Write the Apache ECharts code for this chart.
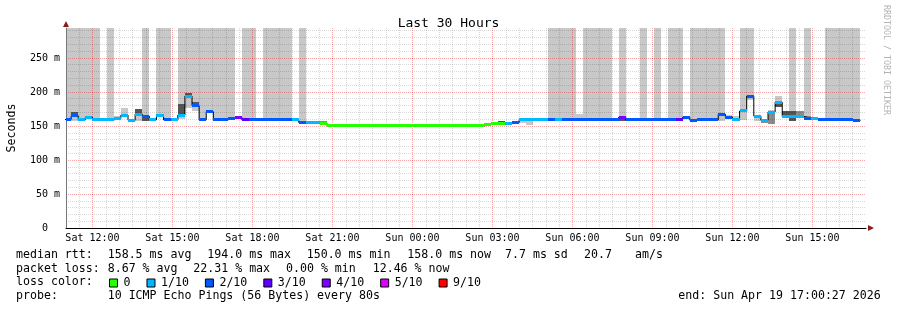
<!DOCTYPE html>
<html><head><meta charset="utf-8">
<script src="https://cdn.jsdelivr.net/npm/echarts@6/dist/echarts.min.js"></script>
<style>html,body{margin:0;padding:0;background:#fff}#c{width:897px;height:310px}</style>
</head><body><div id="c"></div>
<script>
// ---- data (hours since Sat 00:00; bins of 16 minutes starting Sat 10:56) ----
const binStartMinute = 656;
const binMinutes = 16;
const medianValues = [
 159.5,165,159,163,159,159,159,161,166,158.5,
 167.5,164.5,159,165,159,159,166,194,180,159,
 171,159,159,161,163,159,159,159,160,159,
 159,159,159,155,154.5,155,153.5,150,150,150,
 150,150,150,150,150,150,150,150,150,150,
 150,150,150,150,150,150,150,150,150,152,
 153.5,153,154,155,159,159,159,159,159,159,
 159,159,159,159,159,159,159,159,163,159,
 159,159,159,159,159,159,159,163,158.5,159,
 159,159,167.5,163,159,172,194,164.5,158.5,170.5,
 185,164,164,164,161.5,161,159,159,159,159,
 159,158];
const lossLevels = [
 2,2,1,1,1,1,1,1,1,1,
 1,2,1,1,2,1,1,1,2,2,
 2,2,2,2,4,3,2,2,2,2,
 2,2,1,2,1,1,0,0,0,0,
 0,0,0,0,0,0,0,0,0,0,
 0,0,0,0,0,0,0,0,0,0,
 0,0,1,2,1,1,1,1,2,1,
 2,2,2,2,2,2,2,2,4,2,
 2,2,2,2,2,2,3,2,2,2,
 2,2,2,2,1,1,2,1,1,1,
 1,1,1,1,2,1,2,2,2,2,
 2,2];
// bins where part of the pings lie above the graph top
const topBins = [0,1,2,3,4,6,11,13,14,16,17,18,19,20,21,22,23,25,26,28,29,30,31,33,
 68,69,70,71,73,74,75,76,78,81,83,85,86,88,89,90,91,92,95,96,102,104,107,108,109,110,111];
// smoke: [bin, low ms, high ms, shade 0 light / 1 mid / 2 dark]
const smokeRects = [
 [1,165,170,2],[1,158,165,0],[3,163,166,0],[7,161,164,0],[8,166,177,0],
 [10,167.5,175,2],[10,158,167.5,0],[11,158,164.5,2],
 [16,166,182,2],[16,182,188,0],[16,160,166,0],
 [17,194,198,2],[17,176,194,0],[18,180,185,2],[18,172,180,0],
 [29,159,162,1],[33,155,158,2],[34,154.5,158,1],[35,155,158,1],[36,153.5,158,1],
 [60,153.5,156,1],[61,153,158,2],[63,155,158,2],[64,154,159,0],[65,152,159,0],
 [72,159,167,0],[78,158,163,2],[87,163,165,0],[92,158,167.5,0],[93,163,166,0],
 [94,159,164,0],[95,172,175,2],[95,159,172,0],[96,188,194,0],[97,158,164.5,0],
 [98,155,158.5,1],[99,152.5,170.5,1],[99,170.5,173,0],[100,185,194,0],[100,178,185,2],
 [101,164,172,2],[102,164,172,2],[102,157,164,2],[103,164,172,1],[104,161.5,165,1]];
const xTickHours = [12,15,18,21,24,27,30,33,36,39];
const yTickValues = [0,50,100,150,200,250];
const lossNames = ['0','1/10','2/10','3/10','4/10','5/10','9/10'];
const lossKeys = [0,1,2,3,4,5,9];
const lossColors = ['#26ff00','#00b8ff','#0059ff','#5e00ff','#7e00ff','#dd00ff','#ff0000'];
const shadeColors = ['#c8c8c8','#8c8c8c','#555555'];

const XMIN = 11 + 27/3600, XMAX = XMIN + 30, YMAX = 294;
const MONO = '"DejaVu Sans Mono", monospace';
const binT = k => (binStartMinute + binMinutes * k) / 60;

const xMinor = [], yMinor = [];
for (let h = 11.5; h < 41; h += 0.5) if (h % 3 !== 0) xMinor.push(h);
for (let v = 10; v < YMAX; v += 10) if (v % 50 !== 0) yMinor.push(v);

function rectOf(params, api, x0, x1, yTop, yBot) {
  const p0 = api.coord([x0, yTop]), p1 = api.coord([x1, yBot]);
  const cs = params.coordSys;
  const l = Math.round(p0[0]), r = Math.round(p1[0]);
  const t = Math.round(p0[1]), b = Math.round(p1[1]);
  return echarts.graphic.clipRectByRect({x:l, y:t, width:r-l, height:b-t},
    {x:cs.x, y:cs.y, width:cs.width, height:cs.height});
}

const series = [];
series.push({
  type:'custom', name:'top', z:1, silent:true,
  data: topBins.map(k => [binT(k), binT(k+1), medianValues[k]]),
  renderItem: (params, api) => {
    const s = rectOf(params, api, api.value(0), api.value(1), YMAX, api.value(2));
    return s && {type:'rect', shape:s, style:{fill:'#c8c8c8'}};
  }
});
series.push({
  type:'custom', name:'smoke', z:1, silent:true,
  data: smokeRects.map(r => [binT(r[0]), binT(r[0]+1), r[1], r[2], r[3]]),
  renderItem: (params, api) => {
    const s = rectOf(params, api, api.value(0), api.value(1), api.value(3), api.value(2));
    return s && {type:'rect', shape:s, style:{fill:shadeColors[api.value(4)]}};
  }
});
const stepData = medianValues.map((v, k) => [binT(k), v]);
stepData.push([binT(medianValues.length), medianValues[medianValues.length-1]]);
series.push({
  type:'line', name:'medianline', step:'end', z:4, silent:true, symbol:'none',
  data: stepData, lineStyle:{color:'#000', width:1}
});
lossKeys.forEach((key, i) => {
  const d = [];
  medianValues.forEach((v, k) => { if (lossLevels[k] === key) d.push([binT(k), binT(k+1), v]); });
  series.push({
    type:'custom', name:lossNames[i], z:5, silent:true,
    itemStyle:{color:lossColors[i]},
    data:d,
    renderItem: (params, api) => {
      const c = api.coord([api.value(0), api.value(2)]);
      const e = api.coord([api.value(1), api.value(2)]);
      const yc = Math.round(c[1] - 1.5);
      const cs = params.coordSys;
      const s = echarts.graphic.clipRectByRect({x:Math.round(c[0]), y:yc, width:Math.round(e[0])-Math.round(c[0]), height:3},
        {x:cs.x, y:cs.y, width:cs.width, height:cs.height});
      return s && {type:'rect', shape:s, style:{fill:lossColors[i]}};
    }
  });
});

const dayName = h => (h < 24 ? 'Sat' : 'Sun');
const pad = n => (n < 10 ? '0' : '') + n;
const gridMinor = {show:true, lineStyle:{color:'rgba(0,0,0,0.15)', type:[1,1], width:1}};
const gridMajor = {show:true, lineStyle:{color:'rgba(230,0,0,0.35)', type:[1,1], width:1}};

const textItems = [
  ['median rtt:',16,255],['158.5 ms avg',107.7,255],['194.0 ms max',207.3,255],['150.0 ms min',306.7,255],
  ['158.0 ms now',407.3,255],['7.7 ms sd',505,255],['20.7',584,255],['am/s',635,255],
  ['packet loss:',16,268.5],['8.67 % avg',107.7,268.5],['22.31 % max',193.3,268.5],['0.00 % min',286,268.5],['12.46 % now',372.7,268.5],
  ['loss color:',16,282.3],
  ['probe:',16,296],['10 ICMP Echo Pings (56 Bytes) every 80s',107.7,296],['end: Sun Apr 19 17:00:27 2026',678.3,296]
];

const option = {
  animation:false,
  backgroundColor:'#fff',
  title:{text:'Last 30 Hours', left:'center', top:12,
    textStyle:{fontFamily:MONO, fontSize:13, fontWeight:'normal', color:'#000'}},
  grid:{left:66, right:31, top:28, bottom:82, containLabel:false, outerBoundsMode:'none'},
  legend:{data:lossNames, left:109, top:277, padding:0, icon:'rect', itemWidth:8, itemHeight:8, itemGap:16,
    selectedMode:false, itemStyle:{borderColor:'#000', borderWidth:1},
    textStyle:{fontFamily:MONO, fontSize:11.6, color:'#000', padding:[0,0,0,1]}},
  xAxis:[
    {type:'value', min:XMIN, max:XMAX, z:3,
     axisLine:{show:true, onZero:false, lineStyle:{color:'#000', width:1}},
     axisTick:{show:false, customValues:xMinor},
     axisLabel:{show:false, customValues:xMinor},
     splitLine:gridMinor},
    {type:'value', min:XMIN, max:XMAX, position:'bottom', z:3,
     axisLine:{show:true, onZero:false, symbol:['none','triangle'], symbolSize:[6,6], symbolOffset:[0,5],
       lineStyle:{color:'#8c1c1c', width:0}},
     axisTick:{show:false, customValues:xTickHours},
     axisLabel:{customValues:xTickHours, margin:5, fontFamily:MONO, fontSize:10, color:'#000',
       formatter: v => dayName(v) + ' ' + pad(Math.round(v) % 24) + ':00'},
     splitLine:gridMajor}
  ],
  yAxis:[
    {type:'value', min:0, max:YMAX, z:3,
     axisLine:{show:true, onZero:false, lineStyle:{color:'#777', width:1}},
     axisTick:{show:false, customValues:yMinor},
     axisLabel:{show:false, customValues:yMinor},
     splitLine:gridMinor},
    {type:'value', min:0, max:YMAX, position:'left', z:3,
     name:'Seconds', nameLocation:'middle', nameGap:48, nameRotate:90,
     nameTextStyle:{fontFamily:MONO, fontSize:11.6, color:'#000'},
     axisLine:{show:true, onZero:false, symbol:['none','triangle'], symbolSize:[6,6], symbolOffset:[0,4],
       lineStyle:{color:'#8c1c1c', width:0}},
     axisTick:{show:false, customValues:yTickValues},
     axisLabel:{customValues:yTickValues, margin:6, fontFamily:MONO, fontSize:10, color:'#000',
       formatter: v => (v === 0 ? '0  ' : v + ' m')},
     splitLine:gridMajor}
  ],
  series:series,
  graphic:[
    {type:'text', x:886, y:5, rotation:-Math.PI/2, silent:true,
     style:{text:'RRDTOOL / TOBI OETIKER', font:'8.3px ' + MONO, fill:'#b4b4b4', align:'left', verticalAlign:'middle'}}
  ].concat(textItems.map(t => ({type:'text', x:t[1], y:t[2], silent:true,
     style:{text:t[0], font:'11.6px ' + MONO, fill:'#000', align:'left', verticalAlign:'middle'}})))
};
echarts.init(document.getElementById('c')).setOption(option);
</script></body></html>
